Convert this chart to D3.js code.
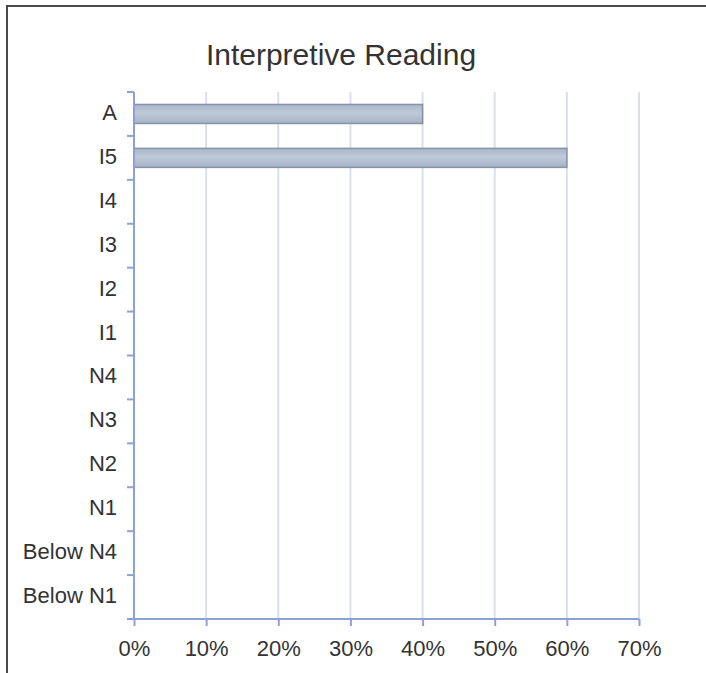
<!DOCTYPE html>
<html>
<head>
<meta charset="utf-8">
<script src="https://cdn.jsdelivr.net/npm/d3@7"></script>
<style>
  html, body { margin: 0; padding: 0; background: #fff; }
  svg { display: block; }
  text { font-family: "Liberation Sans", Arial, sans-serif; fill: #333; }
</style>
</head>
<body>
<script>
// Score bands, top to bottom, and the share of results in each
const categories = ["A", "I5", "I4", "I3", "I2", "I1", "N4", "N3", "N2", "N1", "Below N4", "Below N1"];
const percents   = [40, 60, 0, 0, 0, 0, 0, 0, 0, 0, 0, 0];
const tickValues = [0, 10, 20, 30, 40, 50, 60, 70];
const title = "Interpretive Reading";

const W = 706, H = 673;
const margin = { left: 134, right: 67, top: 92, bottom: 54 };
const barHeight = 19;

const svg = d3.select("body").append("svg")
  .attr("width", W).attr("height", H);

// bar fill gradient
const defs = svg.append("defs");
const grad = defs.append("linearGradient")
  .attr("id", "barFill").attr("x1", 0).attr("y1", 0).attr("x2", 0).attr("y2", 1);
grad.append("stop").attr("offset", "0%").attr("stop-color", "#a9b6c8");
grad.append("stop").attr("offset", "45%").attr("stop-color", "#bfcad8");
grad.append("stop").attr("offset", "100%").attr("stop-color", "#a6b3c5");

// frame (left and top edges)
svg.append("path")
  .attr("d", `M7,${H} V6 H${W}`)
  .attr("fill", "none").attr("stroke", "#4a4a4a").attr("stroke-width", 2);

const x = d3.scaleLinear().domain([0, 70]).range([margin.left, W - margin.right]);
const yBand = d3.scaleBand().domain(categories).range([margin.top, H - margin.bottom]);

const axisColor = "#8ea1d6";
const gridColor = "#dbe0e7";

// title
svg.append("text")
  .attr("x", 341).attr("y", 65)
  .attr("text-anchor", "middle")
  .style("font-size", "30px")
  .text(title);

// vertical gridlines
svg.append("g").selectAll("line")
  .data(tickValues.filter(d => d > 0))
  .join("line")
  .attr("x1", d => x(d)).attr("x2", d => x(d))
  .attr("y1", margin.top).attr("y2", H - margin.bottom)
  .attr("stroke", gridColor).attr("stroke-width", 2);

// bars
svg.append("g").selectAll("rect")
  .data(categories.map((c, i) => ({ c, v: percents[i] })).filter(d => d.v > 0))
  .join("rect")
  .attr("x", x(0))
  .attr("y", d => yBand(d.c) + (yBand.bandwidth() - barHeight) / 2)
  .attr("width", d => x(d.v) - x(0))
  .attr("height", barHeight)
  .attr("fill", "url(#barFill)")
  .attr("stroke", "#8493a8").attr("stroke-width", 1.5);

// x axis
const xAxis = svg.append("g")
  .attr("transform", `translate(0,${H - margin.bottom})`)
  .call(d3.axisBottom(x).tickValues(tickValues).tickFormat(d => d + "%").tickSize(7).tickPadding(14).tickSizeOuter(0));
xAxis.select(".domain").remove();
xAxis.append("line")
  .attr("x1", margin.left - 7).attr("x2", x(70))
  .attr("stroke", axisColor).attr("stroke-width", 2);
xAxis.selectAll(".tick line").attr("stroke", axisColor).attr("stroke-width", 2);
xAxis.selectAll(".tick text")
  .style("font-size", "22px").style("font-family", "'Liberation Sans', Arial, sans-serif")
  .attr("fill", "#333");

// y axis: line with ticks at band boundaries
const yAxis = svg.append("g");
yAxis.append("line")
  .attr("x1", margin.left).attr("x2", margin.left)
  .attr("y1", margin.top).attr("y2", H - margin.bottom)
  .attr("stroke", axisColor).attr("stroke-width", 2);
yAxis.selectAll("line.tk")
  .data(categories)
  .join("line").attr("class", "tk")
  .attr("x1", margin.left - 7).attr("x2", margin.left)
  .attr("y1", d => yBand(d)).attr("y2", d => yBand(d))
  .attr("stroke", axisColor).attr("stroke-width", 2);
yAxis.selectAll("text")
  .data(categories)
  .join("text")
  .attr("x", 117)
  .attr("y", d => yBand(d) + yBand.bandwidth() / 2 + 6)
  .attr("text-anchor", "end")
  .style("font-size", "22px")
  .text(d => d);
</script>
</body>
</html>
